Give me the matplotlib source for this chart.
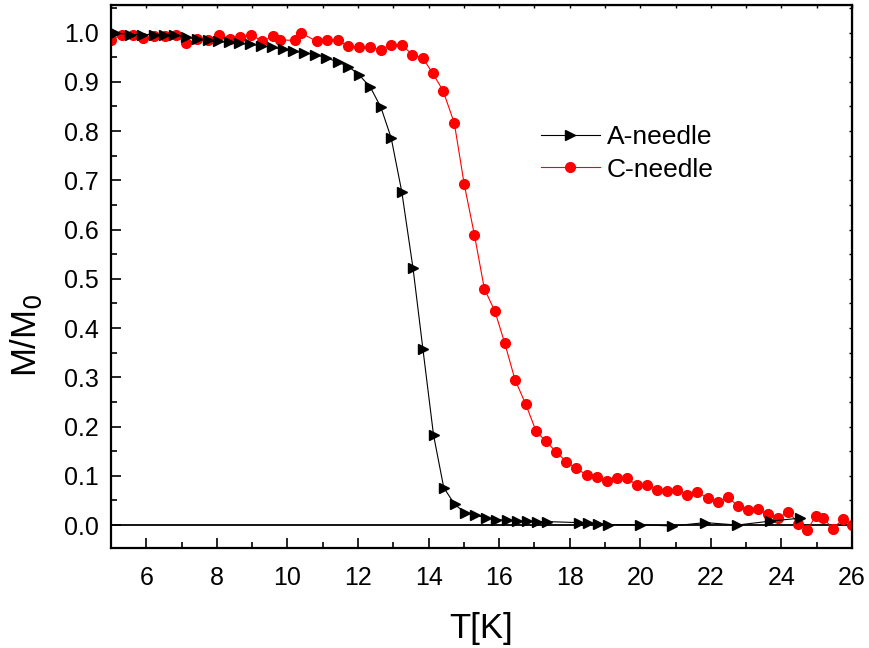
import matplotlib
matplotlib.use("Agg")
import matplotlib.pyplot as plt
from matplotlib.ticker import MultipleLocator

plt.rcParams['font.family'] = ['Liberation Sans', 'DejaVu Sans']

# --- data ---
t_a = [5.12, 5.55, 5.88, 6.21, 6.49, 6.79, 7.13, 7.44, 7.74, 8.02, 8.33, 8.64,
       8.95, 9.26, 9.57, 9.87, 10.17, 10.48, 10.79, 11.10, 11.42, 11.73, 12.03,
       12.35, 12.65, 12.94, 13.24, 13.56, 13.84, 14.14, 14.43, 14.74, 15.04,
       15.32, 15.62, 15.92, 16.22, 16.52, 16.80, 17.08, 17.37, 18.25, 18.53,
       18.81, 19.08, 19.99, 20.89, 21.84, 22.75, 23.68, 24.53]
m_a = [0.999, 0.996, 0.996, 0.996, 0.996, 0.996, 0.990, 0.987, 0.984, 0.982,
       0.980, 0.978, 0.976, 0.973, 0.970, 0.966, 0.962, 0.959, 0.955, 0.949,
       0.940, 0.931, 0.914, 0.889, 0.848, 0.786, 0.677, 0.521, 0.357, 0.183,
       0.076, 0.042, 0.025, 0.020, 0.015, 0.011, 0.010, 0.008, 0.008, 0.007,
       0.007, 0.005, 0.004, 0.003, 0.001, 0.001, -0.002, 0.005, 0.000, 0.008,
       0.014]

t_c = [5.01, 5.31, 5.61, 5.92, 6.21, 6.52, 6.83, 7.13, 7.44, 7.74, 8.06, 8.36,
       8.66, 8.97, 9.28, 9.59, 9.80, 10.22, 10.39, 10.83, 11.11, 11.42, 11.73,
       12.03, 12.35, 12.64, 12.94, 13.24, 13.54, 13.83, 14.12, 14.41, 14.73,
       15.01, 15.30, 15.58, 15.88, 16.16, 16.45, 16.75, 17.05, 17.33, 17.61,
       17.90, 18.18, 18.48, 18.76, 19.06, 19.33, 19.62, 19.91, 20.19, 20.48,
       20.76, 21.04, 21.33, 21.61, 21.91, 22.21, 22.50, 22.76, 23.05, 23.33,
       23.62, 23.90, 24.20, 24.48, 24.73, 24.97, 25.19, 25.45, 25.75, 26.01]
m_c = [0.985, 0.996, 0.995, 0.989, 0.993, 0.992, 0.995, 0.978, 0.986, 0.984,
       0.996, 0.987, 0.990, 0.996, 0.982, 0.992, 0.985, 0.984, 0.999, 0.982,
       0.984, 0.984, 0.972, 0.970, 0.970, 0.965, 0.975, 0.975, 0.955, 0.949,
       0.917, 0.882, 0.816, 0.692, 0.589, 0.480, 0.434, 0.369, 0.295, 0.246,
       0.190, 0.170, 0.149, 0.129, 0.115, 0.102, 0.098, 0.089, 0.095, 0.095,
       0.081, 0.081, 0.071, 0.069, 0.071, 0.062, 0.068, 0.054, 0.047, 0.056,
       0.039, 0.030, 0.032, 0.022, 0.014, 0.027, 0.003, -0.010, 0.018, 0.014,
       -0.007, 0.012, 0.001]

labels = ['A-needle', 'C-needle']

fig = plt.figure(figsize=(8.7, 6.48), dpi=100)
ax = fig.add_axes([0.1276, 0.154, 0.8517, 0.8376])

ax.axhline(0, color='black', lw=1.3, zorder=1)
ax.plot(t_a, m_a, color='black', lw=0.8, marker='>', ms=6.5,
        mec='black', mfc='black', label=labels[0], zorder=3)
ax.plot(t_c, m_c, color='red', lw=0.8, marker='o', ms=7,
        mec='red', mfc='red', label=labels[1], zorder=2)

ax.set_xlim(5, 26)
ax.set_ylim(-0.047, 1.055)
ax.xaxis.set_major_locator(MultipleLocator(2))
ax.xaxis.set_minor_locator(MultipleLocator(1))
ax.yaxis.set_major_locator(MultipleLocator(0.1))
ax.yaxis.set_minor_locator(MultipleLocator(0.05))
ax.yaxis.set_major_formatter(plt.FormatStrFormatter('%.1f'))

ax.tick_params(which='both', direction='in', width=1.2, labelsize=18)
ax.tick_params(which='major', length=7)
ax.tick_params(which='minor', length=4)
ax.tick_params(axis='x', which='major', pad=13)
ax.tick_params(axis='y', which='major', pad=9)
for s in ax.spines.values():
    s.set_linewidth(1.6)

# short inward ticks on top and right
top = ax.secondary_xaxis('top')
top.xaxis.set_major_locator(MultipleLocator(1))
top.tick_params(direction='in', length=2.5, width=1, labeltop=False)
right = ax.secondary_yaxis('right')
right.yaxis.set_major_locator(MultipleLocator(0.05))
right.tick_params(direction='in', length=2.5, width=1, labelright=False)

ax.set_xlabel('T[K]', fontsize=25, labelpad=16)
ax.set_ylabel('M/M$_0$', fontsize=25)
ax.yaxis.set_label_coords(-0.09, 0.393)

ax.legend(loc='upper left', bbox_to_anchor=(0.58, 0.78), frameon=False,
          fontsize=19, handlelength=2.23, handletextpad=0.27, labelspacing=0.33,
          borderpad=0, borderaxespad=0)

fig.savefig('out.png', dpi=100)
